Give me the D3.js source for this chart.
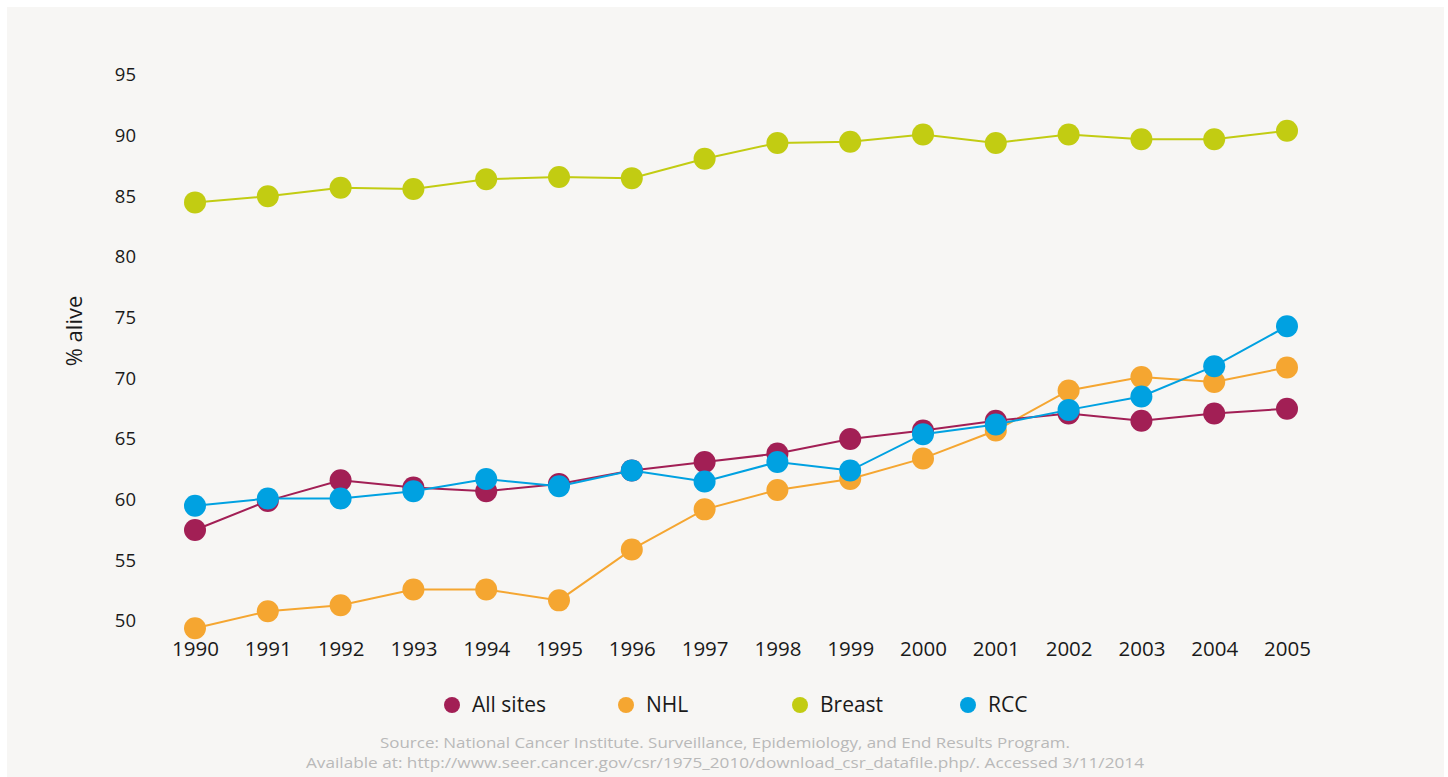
<!DOCTYPE html>
<html>
<head>
<meta charset="utf-8">
<script src="https://cdn.jsdelivr.net/npm/d3@7/dist/d3.min.js"></script>
<style>
  html, body { margin: 0; padding: 0; background: #ffffff; }
  svg { display: block; }
  text { font-family: "Open Sans", "Noto Sans", sans-serif; }
</style>
</head>
<body>
<svg id="chart" width="1448" height="777"></svg>
<script>
const years = [1990,1991,1992,1993,1994,1995,1996,1997,1998,1999,2000,2001,2002,2003,2004,2005];
const allSites = [57.5,59.9,61.6,61.0,60.7,61.3,62.4,63.1,63.8,65.0,65.7,66.5,67.1,66.5,67.1,67.5];
const nhl      = [49.4,50.8,51.3,52.6,52.6,51.7,55.9,59.2,60.8,61.7,63.4,65.7,69.0,70.1,69.7,70.9];
const breast   = [84.5,85.0,85.7,85.6,86.4,86.6,86.5,88.1,89.4,89.5,90.1,89.4,90.1,89.7,89.7,90.4];
const rcc      = [59.5,60.1,60.1,60.7,61.7,61.1,62.4,61.5,63.1,62.4,65.4,66.2,67.4,68.5,71.0,74.3];
const yTicks = [50,55,60,65,70,75,80,85,90,95];
const seriesNames = ["All sites","NHL","Breast","RCC"];
const seriesColors = ["#a21f55","#f5a631","#c2cc12","#00a1e1"];
const sourceLines = [
  "Source: National Cancer Institute. Surveillance, Epidemiology, and End Results Program.",
  "Available at: http://www.seer.cancer.gov/csr/1975_2010/download_csr_datafile.php/. Accessed 3/11/2014"
];

const series = [
  {name: seriesNames[0], color: seriesColors[0], values: allSites},
  {name: seriesNames[1], color: seriesColors[1], values: nhl},
  {name: seriesNames[2], color: seriesColors[2], values: breast},
  {name: seriesNames[3], color: seriesColors[3], values: rcc}
];

const svg = d3.select("#chart");
svg.append("rect").attr("x", 7).attr("y", 7).attr("width", 1437).attr("height", 770).attr("fill", "#f7f6f4");

const x = d3.scalePoint().domain(years).range([195, 1287]);
const y = d3.scaleLinear().domain([50, 95]).range([621, 75]);

// Y axis labels
const yAxis = d3.axisLeft(y).tickValues(yTicks).tickSize(0).tickPadding(0);
const yg = svg.append("g").attr("transform", "translate(136,0)").call(yAxis);
yg.select(".domain").remove();
yg.selectAll("text").attr("font-size", 18.5).attr("fill", "#1a1a1a").attr("font-family", "'Open Sans', sans-serif");

// X axis labels
const xAxis = d3.axisBottom(x).tickSize(0).tickPadding(0).tickFormat(d3.format("d"));
const xg = svg.append("g").attr("transform", "translate(0,641)").call(xAxis);
xg.select(".domain").remove();
xg.selectAll("text").attr("font-size", 20.5).attr("fill", "#1a1a1a").attr("dy", "0.71em").attr("font-family", "'Open Sans', sans-serif");

// Y axis title
svg.append("text")
  .attr("transform", "translate(82,331) rotate(-90)")
  .attr("text-anchor", "middle")
  .attr("font-size", 22)
  .attr("fill", "#1a1a1a")
  .text("% alive");

const line = d3.line().x((d, i) => x(years[i])).y(d => y(d));

const drawOrder = [1, 0, 2, 3];
drawOrder.forEach(idx => {
  const s = series[idx];
  const g = svg.append("g");
  g.append("path").datum(s.values).attr("d", line)
    .attr("fill", "none").attr("stroke", s.color).attr("stroke-width", 2);
  g.selectAll("circle").data(s.values).enter().append("circle")
    .attr("cx", (d, i) => x(years[i])).attr("cy", d => y(d)).attr("r", 11)
    .attr("fill", s.color);
});

// Legend
const legendX = [452, 626, 800, 968];
const lg = svg.append("g");
series.forEach((s, i) => {
  lg.append("circle").attr("cx", legendX[i]).attr("cy", 705).attr("r", 8).attr("fill", s.color);
  lg.append("text").attr("x", legendX[i] + 20).attr("y", 705).attr("dy", "0.35em")
    .attr("font-size", 21).attr("fill", "#1a1a1a").text(s.name);
});

// Source
const sourceWidths = [690, 838];
sourceLines.forEach((t, i) => {
  svg.append("text").attr("x", 725).attr("y", 743 + i * 20).attr("dy", "0.35em")
    .attr("text-anchor", "middle").attr("font-size", 15).attr("fill", "#b9b9b9")
    .attr("textLength", sourceWidths[i]).attr("lengthAdjust", "spacingAndGlyphs")
    .text(t);
});
</script>
</body>
</html>
